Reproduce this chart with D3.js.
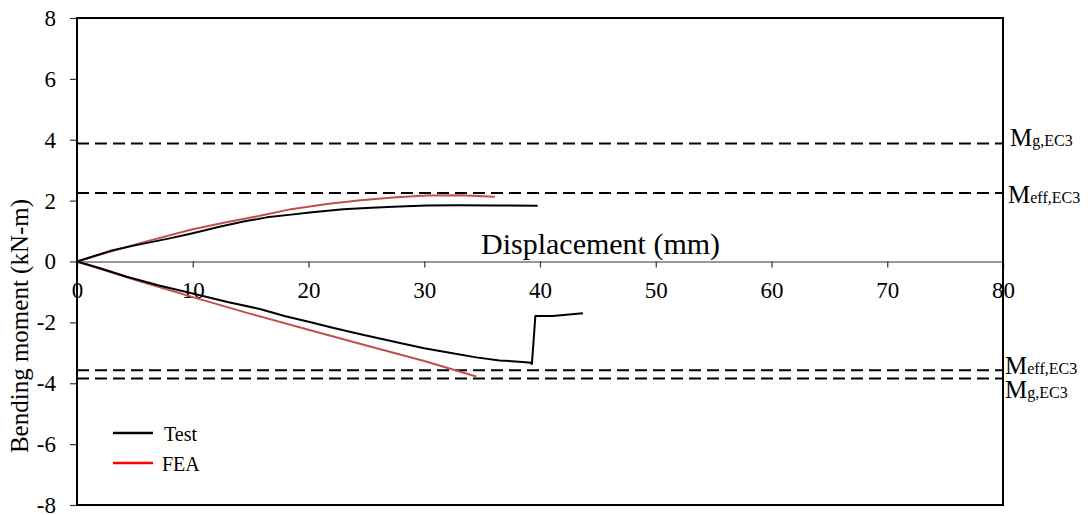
<!DOCTYPE html>
<html>
<head>
<meta charset="utf-8">
<script src="https://cdn.jsdelivr.net/npm/d3@7"></script>
<style>
  body { margin: 0; background: #fff; }
  text { font-family: "Liberation Serif", "Times New Roman", serif; fill: #000; }
</style>
</head>
<body>
<svg id="chart" width="1091" height="515"></svg>
<script>
// Axis ticks
const xTickValues = [0, 10, 20, 30, 40, 50, 60, 70, 80];
const yTickValues = [-8, -6, -4, -2, 0, 2, 4, 6, 8];

// Test curve, positive (sagging) branch: [displacement mm, moment kN-m]
const testPositive = [
  [0, 0], [1.5, 0.18], [2.9, 0.35], [5, 0.53], [8, 0.76], [10, 0.93], [12.4, 1.15],
  [14.5, 1.32], [16.4, 1.45], [18.5, 1.54], [20.1, 1.61], [23, 1.72], [25, 1.76],
  [27.3, 1.8], [30.2, 1.84], [33, 1.85], [36, 1.84], [39.8, 1.83]
];
// Test curve, negative (hogging) branch
const testNegative = [
  [0, 0], [2, -0.22], [4.3, -0.5], [7, -0.78], [10, -1.05], [13, -1.33], [15.8, -1.56],
  [18, -1.8], [20.1, -1.99], [22, -2.17], [24.4, -2.38], [27.9, -2.68], [30, -2.85],
  [32.2, -3.0], [34.5, -3.15], [36.5, -3.25], [38.5, -3.3], [39.2, -3.33], [39.3, -3.37],
  [39.6, -1.79], [41.1, -1.79], [43.7, -1.7]
];
// FEA curve, positive branch
const feaPositive = [
  [0, 0], [2.9, 0.33], [6, 0.66], [10, 1.06], [13, 1.3], [15.8, 1.5], [18.5, 1.72],
  [21.6, 1.89], [24.5, 2.01], [27.3, 2.1], [30.2, 2.17], [33.1, 2.18], [36.1, 2.13]
];
// FEA curve, negative branch
const feaNegative = [
  [0, 0], [5, -0.6], [10, -1.17], [15, -1.72], [20, -2.24], [25, -2.76], [30, -3.27], [34.5, -3.78]
];

// Code-predicted resistances (EC3)
const refValues = [3.88, 2.25, -3.57, -3.84];
const refSubscripts = ["g,EC3", "eff,EC3", "eff,EC3", "g,EC3"];

const legendNames = ["Test", "FEA"];

// ---- drawing ----
const svg = d3.select("#chart");
const W = 1091, H = 515;
const margin = { left: 77, right: 88, top: 18, bottom: 10 };

const x = d3.scaleLinear().domain([0, 80]).range([margin.left, W - margin.right]);
const y = d3.scaleLinear().domain([-8, 8]).range([H - margin.bottom, margin.top]);

const curveColor = "#c0504d";
const plainNumber = d => String(d);   // keeps the ASCII hyphen for negatives

// reference (dashed) lines
svg.append("g").selectAll("line").data(refValues).join("line")
  .attr("x1", x(0)).attr("x2", x(80))
  .attr("y1", d => y(d)).attr("y2", d => y(d))
  .attr("stroke", "#000").attr("stroke-width", 2)
  .attr("stroke-dasharray", "12,6");

// x axis through zero
const xAxis = d3.axisBottom(x).tickValues(xTickValues).tickSize(6).tickPadding(14)
  .tickFormat(plainNumber);
const gx = svg.append("g").attr("transform", `translate(0,${y(0)})`).call(xAxis);
gx.select(".domain").attr("stroke", "#333").attr("stroke-width", 1.2);
gx.selectAll(".tick line").attr("stroke", "#333").attr("stroke-width", 1.2);
gx.selectAll(".tick text").attr("font-size", 23)
  .style("font-family", '"Liberation Serif", serif').attr("fill", "#000");

// y axis
const yAxis = d3.axisLeft(y).tickValues(yTickValues).tickSize(7).tickPadding(14)
  .tickFormat(plainNumber);
const gy = svg.append("g").attr("transform", `translate(${x(0)},0)`).call(yAxis);
gy.select(".domain").remove();
gy.selectAll(".tick line").attr("stroke", "#333").attr("stroke-width", 1.2);
gy.selectAll(".tick text").attr("font-size", 23)
  .style("font-family", '"Liberation Serif", serif').attr("fill", "#000");

// plot frame
svg.append("rect")
  .attr("x", x(0)).attr("y", y(8))
  .attr("width", x(80) - x(0)).attr("height", y(-8) - y(8))
  .attr("fill", "none").attr("stroke", "#000").attr("stroke-width", 2);

// curves
const line = d3.line().x(d => x(d[0])).y(d => y(d[1]));
const series = [
  { data: feaPositive, color: curveColor },
  { data: feaNegative, color: curveColor },
  { data: testPositive, color: "#000" },
  { data: testNegative, color: "#000" }
];
svg.append("g").selectAll("path").data(series).join("path")
  .attr("d", d => line(d.data))
  .attr("fill", "none").attr("stroke", d => d.color)
  .attr("stroke-width", 2).attr("stroke-linejoin", "round");

// axis titles
svg.append("text")
  .attr("x", 481).attr("y", 254)
  .attr("font-size", 30)
  .text("Displacement (mm)");

svg.append("text")
  .attr("transform", "translate(28,326) rotate(-90)")
  .attr("text-anchor", "middle")
  .attr("font-size", 25)
  .text("Bending moment (kN-m)");

// reference labels
const refLabelPos = [[1010, 3], [1008, 10], [1005, 4], [1005, 20]];
refValues.forEach((v, i) => {
  const t = svg.append("text")
    .attr("x", refLabelPos[i][0]).attr("y", y(v) + refLabelPos[i][1])
    .attr("font-size", 25);
  t.append("tspan").text("M");
  t.append("tspan").attr("font-size", 16).text(refSubscripts[i]);
});

// legend
const legendColors = ["#000", "#ff0000"];
const lg = svg.append("g").selectAll("g").data(legendNames).join("g")
  .attr("transform", (d, i) => `translate(113,${433 + i * 30})`);
lg.append("line").attr("x1", 0).attr("x2", 40).attr("y1", 0).attr("y2", 0)
  .attr("stroke", (d, i) => legendColors[i]).attr("stroke-width", 2.5);
lg.append("text").attr("x", (d, i) => i === 0 ? 51 : 49).attr("y", 8)
  .attr("font-size", 20).text(d => d);
</script>
</body>
</html>
